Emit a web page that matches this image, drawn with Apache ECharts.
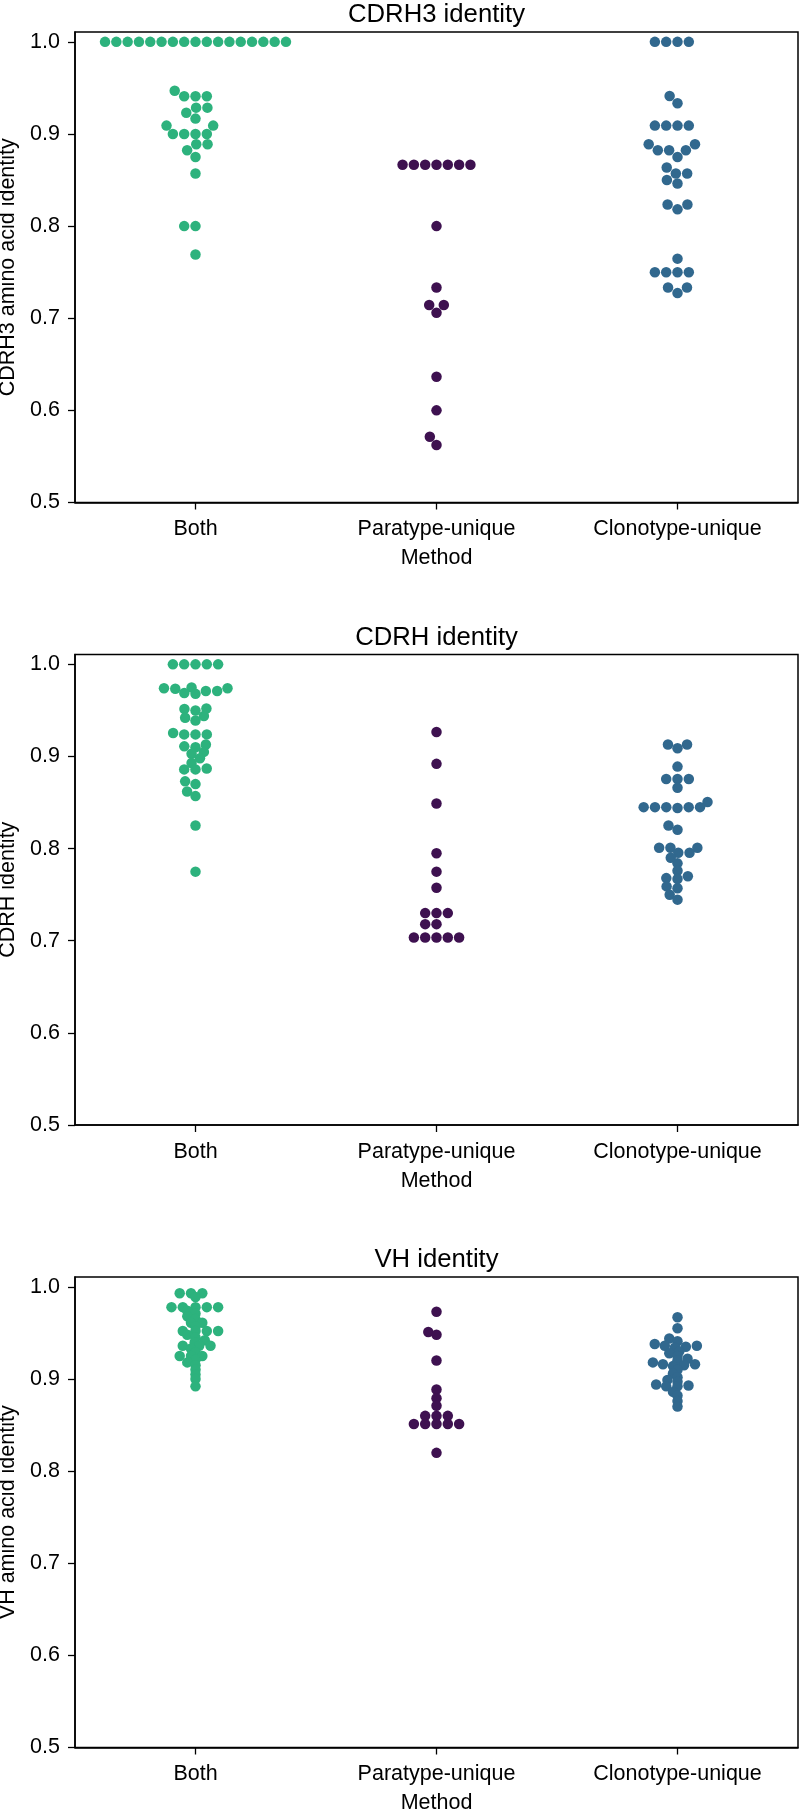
<!DOCTYPE html>
<html>
<head>
<meta charset="utf-8">
<script src="https://cdn.jsdelivr.net/npm/echarts@6/dist/echarts.min.js"></script>
<style>
html,body{margin:0;padding:0;background:#ffffff;}
#c{width:800px;height:1809px;}
</style>
</head>
<body>
<div id="c"></div>
<script>
// ---------------- data ----------------
const categories = ['Both', 'Paratype-unique', 'Clonotype-unique'];
const panelTitles = ['CDRH3 identity', 'CDRH identity', 'VH identity'];
const yAxisNames = ['CDRH3 amino acid identity', 'CDRH identity', 'VH amino acid identity'];
const xAxisName = 'Method';
const yTickValues = [0.5, 0.6, 0.7, 0.8, 0.9, 1.0];

// Panel 1: CDRH3 identity
const cdrh3Both = [1.0, 1.0, 1.0, 1.0, 1.0, 1.0, 1.0, 1.0, 1.0, 1.0, 1.0, 1.0, 1.0, 1.0, 1.0, 1.0, 1.0,
  0.947, 0.941, 0.941, 0.941, 0.9286, 0.9286, 0.9231, 0.9167, 0.9091, 0.9091,
  0.9, 0.9, 0.9, 0.9, 0.8889, 0.8889, 0.8824, 0.875, 0.8571, 0.8, 0.8, 0.7692];
const cdrh3Paratype = [0.8667, 0.8667, 0.8667, 0.8667, 0.8667, 0.8667, 0.8667,
  0.8, 0.7333, 0.7143, 0.7143, 0.7059, 0.6364, 0.6, 0.5714, 0.5625];
const cdrh3Clonotype = [1.0, 1.0, 1.0, 1.0, 0.9412, 0.9333, 0.9091, 0.9091, 0.9091, 0.9091,
  0.8889, 0.8889, 0.8824, 0.8824, 0.8824, 0.875, 0.8636, 0.8571, 0.8571, 0.85, 0.8462,
  0.8235, 0.8235, 0.8182, 0.7647, 0.75, 0.75, 0.75, 0.75, 0.7333, 0.7333, 0.7273];

// Panel 2: CDRH identity
const cdrhBoth = [1.0, 1.0, 1.0, 1.0, 1.0,
  0.975, 0.974, 0.974, 0.9735, 0.971, 0.971, 0.969, 0.968,
  0.952, 0.9515, 0.950, 0.944, 0.942, 0.939,
  0.9255, 0.924, 0.924, 0.924,
  0.913, 0.911, 0.910, 0.905, 0.903, 0.898,
  0.893, 0.887, 0.886, 0.886,
  0.873, 0.870, 0.862, 0.857, 0.825, 0.775];
const cdrhParatype = [0.9265, 0.892, 0.849, 0.795, 0.775, 0.7575, 0.730, 0.730, 0.730,
  0.718, 0.718, 0.7035, 0.7035, 0.7035, 0.7035, 0.7035];
const cdrhClonotype = [0.913, 0.913, 0.909, 0.889, 0.8755, 0.8755, 0.8755, 0.866, 0.8506,
  0.845, 0.845, 0.845, 0.845, 0.845, 0.844, 0.825, 0.8205, 0.801, 0.801, 0.801,
  0.7956, 0.7956, 0.790, 0.784, 0.776, 0.770, 0.768, 0.767, 0.759, 0.757, 0.750, 0.7446];

// Panel 3: VH identity
const vhBoth = [0.993, 0.993, 0.993, 0.989, 0.978, 0.978, 0.978, 0.978, 0.978,
  0.974, 0.971, 0.968, 0.965, 0.961, 0.961, 0.957,
  0.952, 0.952, 0.952, 0.952, 0.948, 0.945, 0.942, 0.940,
  0.936, 0.936, 0.936, 0.933, 0.929, 0.925, 0.925, 0.925,
  0.921, 0.918, 0.915, 0.910, 0.905, 0.900, 0.892];
const vhParatype = [0.973, 0.951, 0.948, 0.920, 0.8885, 0.879, 0.871, 0.860, 0.860, 0.860,
  0.8512, 0.8512, 0.8512, 0.8512, 0.8512, 0.8198];
const vhClonotype = [0.967, 0.955,
  0.944, 0.941, 0.938, 0.936, 0.936, 0.935, 0.934,
  0.930, 0.928, 0.925, 0.922, 0.920,
  0.918, 0.916, 0.916, 0.915, 0.914,
  0.910, 0.906, 0.902, 0.899, 0.897,
  0.894, 0.893, 0.892, 0.892,
  0.886, 0.882, 0.876, 0.870];

const panelData = [
  [cdrh3Both, cdrh3Paratype, cdrh3Clonotype],
  [cdrhBoth, cdrhParatype, cdrhClonotype],
  [vhBoth, vhParatype, vhClonotype]
];

// ---------------- style / layout ----------------
const FONT = '"Liberation Sans", Arial, Helvetica, sans-serif';
const colors = ['#2db27d', '#3e1150', '#31688e'];
const gridTops = [32, 654.5, 1277];
const gridLeft = 75, gridWidth = 723, gridHeight = 470.5;
const Y_MIN = 0.5, Y_MAX = 1.0107;
const MARKER = 10.5;      // drawn marker diameter (px)
const SWARM_D = 10.77;    // swarm collision diameter (px)

const chart = echarts.init(document.getElementById('c'), null, {renderer: 'canvas'});

function buildOption(seriesList) {
  const txt = {color: '#000', fontFamily: FONT, fontSize: 21.5};
  return {
    animation: false,
    backgroundColor: '#ffffff',
    title: panelTitles.map((t, i) => ({
      text: t, left: gridLeft + gridWidth / 2, textAlign: 'center', top: gridTops[i] - 30,
      padding: 0,
      textStyle: {color: '#000', fontFamily: FONT, fontSize: 25.7, fontWeight: 'normal'}
    })),
    grid: gridTops.map(t => ({
      left: gridLeft, width: gridWidth, top: t, height: gridHeight,
      outerBoundsMode: 'none', containLabel: false,
      show: true, borderColor: '#000', borderWidth: 1.5, backgroundColor: 'transparent'
    })),
    xAxis: gridTops.map((t, i) => ({
      gridIndex: i, type: 'value', min: -0.5, max: 2.5,
      axisLine: {show: true, onZero: false, lineStyle: {color: '#000', width: 1.5}},
      axisTick: {show: true, length: 7, customValues: [0, 1, 2], lineStyle: {color: '#000', width: 1.3}},
      axisLabel: Object.assign({customValues: [0, 1, 2], margin: 16,
        formatter: v => categories[Math.round(v)]}, txt),
      splitLine: {show: false},
      name: xAxisName, nameLocation: 'middle', nameGap: 45,
      nameTextStyle: txt
    })),
    yAxis: gridTops.map((t, i) => ({
      gridIndex: i, type: 'value', min: Y_MIN, max: Y_MAX,
      axisLine: {show: true, onZero: false, lineStyle: {color: '#000', width: 1.5}},
      axisTick: {show: true, length: 7, customValues: yTickValues, lineStyle: {color: '#000', width: 1.3}},
      axisLabel: Object.assign({customValues: yTickValues, margin: 15,
        formatter: v => v.toFixed(1)}, txt),
      splitLine: {show: false},
      name: yAxisNames[i], nameLocation: 'middle', nameGap: 52,
      nameTextStyle: txt
    })),
    series: seriesList
  };
}

// initial render to get the library's scales
chart.setOption(buildOption([]));

// seaborn-style beeswarm (computed in pixel space)
function swarmOffsets(values, pxPerY, diam) {
  const order = values.map((v, i) => i).sort((a, b) => values[a] - values[b] || a - b);
  const placed = [];
  const out = new Array(values.length).fill(0);
  const d2 = diam * diam;
  for (const i of order) {
    const y = values[i] * pxPerY;
    const neigh = [];
    for (let k = placed.length - 1; k >= 0; k--) {
      if (y - placed[k].y < diam) neigh.push(placed[k]); else break;
    }
    neigh.reverse();
    const cands = [0];
    let leftFirst = true;
    for (const n of neigh) {
      const dy = y - n.y;
      const dx = Math.sqrt(Math.max(d2 - dy * dy, 0)) * 1.05;
      if (leftFirst) cands.push(n.x - dx, n.x + dx); else cands.push(n.x + dx, n.x - dx);
      leftFirst = !leftFirst;
    }
    const idx = cands.map((c, j) => j).sort((a, b) => (Math.abs(cands[a]) - Math.abs(cands[b])) || (a - b));
    let chosen = 0;
    if (neigh.length) {
      for (const j of idx) {
        const cx = cands[j];
        let ok = true;
        for (const n of neigh) {
          const ddx = n.x - cx, ddy = n.y - y;
          if (ddx * ddx + ddy * ddy < d2) { ok = false; break; }
        }
        if (ok) { chosen = cx; break; }
      }
    }
    placed.push({x: chosen, y: y});
    out[i] = chosen;
  }
  return out;
}

const series = [];
panelData.forEach((cats, p) => {
  const px0 = chart.convertToPixel({xAxisIndex: p}, 0);
  const px1 = chart.convertToPixel({xAxisIndex: p}, 1);
  const pxPerX = Math.abs(px1 - px0);
  const py0 = chart.convertToPixel({yAxisIndex: p}, 0.5);
  const py1 = chart.convertToPixel({yAxisIndex: p}, 1.0);
  const pxPerY = Math.abs(py0 - py1) / 0.5;
  // swarm was laid out while the y axis was still auto-scaled to the data
  const all = [].concat(...cats);
  const dMin = Math.min(...all), dMax = Math.max(...all);
  const stretch = (Y_MAX - Y_MIN) / ((dMax - dMin) * 1.1);
  cats.forEach((vals, c) => {
    const offs = swarmOffsets(vals, pxPerY * stretch, SWARM_D);
    series.push({
      type: 'scatter', xAxisIndex: p, yAxisIndex: p,
      symbol: 'circle', symbolSize: MARKER, silent: true,
      itemStyle: {color: colors[c], opacity: 1},
      data: vals.map((v, k) => [c + offs[k] / pxPerX, v])
    });
  });
});

chart.setOption(buildOption(series), true);
</script>
</body>
</html>
